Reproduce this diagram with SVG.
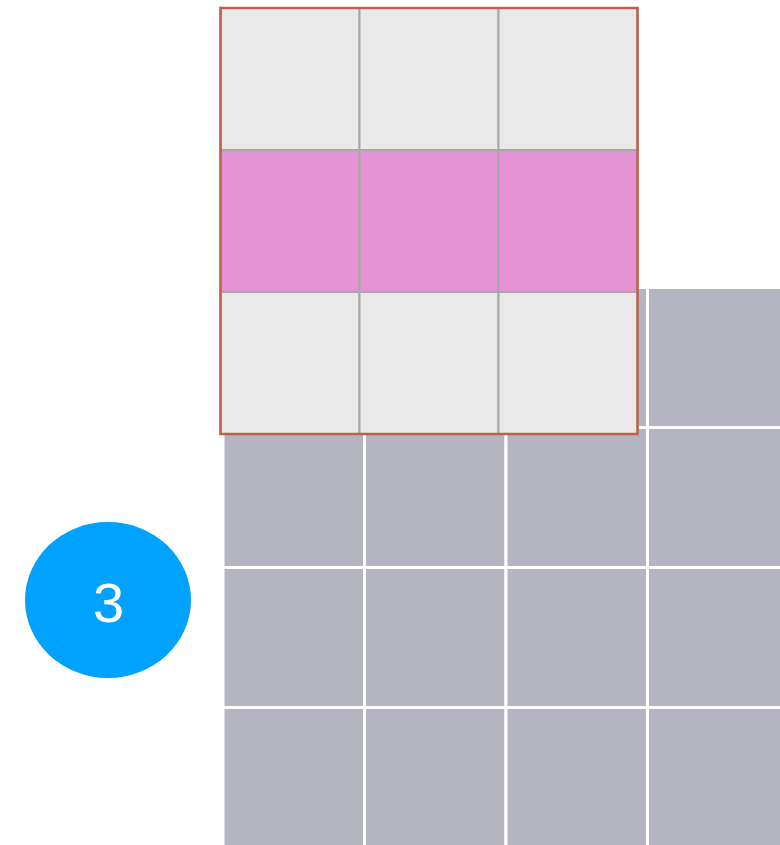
<svg xmlns="http://www.w3.org/2000/svg" width="780" height="845" viewBox="0 0 780 845">
<style>
.g{fill:#B5B5C2;stroke:#FFFFFF;stroke-width:3}
.c{fill:#E9E9E9;stroke:#A8A8A8;stroke-width:2}
.p{fill:#E493D5;stroke:#A8A8A8;stroke-width:2}
</style>
<rect width="780" height="845" fill="#FFFFFF"/>
<g id="input-grid">
<rect class="g" x="223" y="287.5" width="141.5" height="140"/>
<rect class="g" x="364.5" y="287.5" width="141.5" height="140"/>
<rect class="g" x="506" y="287.5" width="141.5" height="140"/>
<rect class="g" x="647.5" y="287.5" width="141.5" height="140"/>
<rect class="g" x="223" y="427.5" width="141.5" height="140"/>
<rect class="g" x="364.5" y="427.5" width="141.5" height="140"/>
<rect class="g" x="506" y="427.5" width="141.5" height="140"/>
<rect class="g" x="647.5" y="427.5" width="141.5" height="140"/>
<rect class="g" x="223" y="567.5" width="141.5" height="140"/>
<rect class="g" x="364.5" y="567.5" width="141.5" height="140"/>
<rect class="g" x="506" y="567.5" width="141.5" height="140"/>
<rect class="g" x="647.5" y="567.5" width="141.5" height="140"/>
<rect class="g" x="223" y="707.5" width="141.5" height="140"/>
<rect class="g" x="364.5" y="707.5" width="141.5" height="140"/>
<rect class="g" x="506" y="707.5" width="141.5" height="140"/>
<rect class="g" x="647.5" y="707.5" width="141.5" height="140"/>
</g>
<g id="kernel">
<rect class="c" x="220.5" y="8" width="139" height="142"/>
<rect class="c" x="359.5" y="8" width="139" height="142"/>
<rect class="c" x="498.5" y="8" width="139" height="142"/>
<rect class="p" x="220.5" y="150" width="139" height="142"/>
<rect class="p" x="359.5" y="150" width="139" height="142"/>
<rect class="p" x="498.5" y="150" width="139" height="142"/>
<rect class="c" x="220.5" y="292" width="139" height="142"/>
<rect class="c" x="359.5" y="292" width="139" height="142"/>
<rect class="c" x="498.5" y="292" width="139" height="142"/>
<rect x="220.5" y="8" width="417" height="426" fill="none" stroke="#C0604A" stroke-width="2.5"/>
</g>
<g id="step-badge">
<ellipse cx="108" cy="600" rx="83" ry="78" fill="#00A2FF"/>
<text x="108.5" y="622" font-family="'Liberation Sans', Arial, sans-serif" font-size="56" fill="#FFFFFF" text-anchor="middle">3</text>
</g>
<g id="connectors"/>
</svg>
